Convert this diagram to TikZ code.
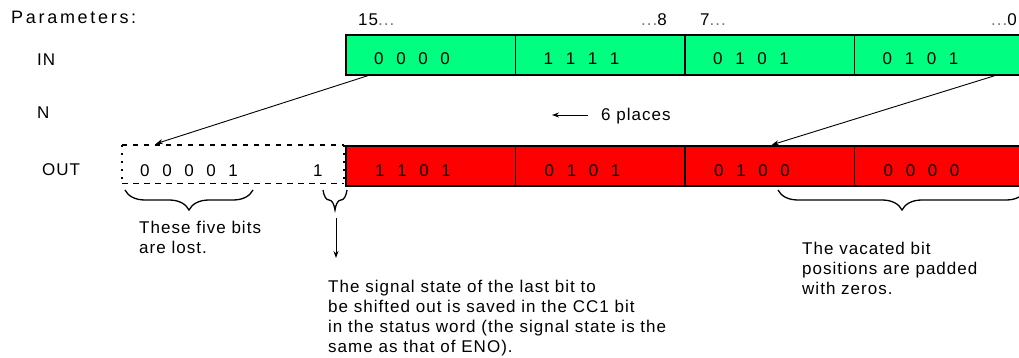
\documentclass[tikz,border=0pt]{standalone}
\usepackage{fontspec}
\setmainfont{Liberation Sans}
\newfontfamily\lblfont[LetterSpace=6]{Liberation Sans}
\newfontfamily\parfont[LetterSpace=15]{Liberation Sans}
\usetikzlibrary{decorations.pathreplacing,arrows.meta}

\definecolor{ingreen}{RGB}{0,255,128}
\definecolor{outred}{RGB}{255,0,0}
\definecolor{dotgray}{RGB}{120,120,120}

% four bit digits with the wide spacing used in the register cells
\newcommand\digitgap{\hspace{12.6pt}}
\newcommand\bitfour[4]{#1\digitgap#2\digitgap#3\digitgap#4}
\newcommand\graydots{\textcolor{dotgray}{...}}

\begin{document}
\begin{tikzpicture}[x=1pt,y=-1pt,
  cell/.style={draw=black,line width=1.3pt,anchor=north west,
    minimum width=169.5pt,minimum height=40pt,inner sep=0pt,outer sep=0pt},
  bits/.style={anchor=base west,inner sep=0pt,font=\fontsize{17}{20}\selectfont},
  lbl/.style={inner sep=0pt,font=\lblfont\fontsize{17}{20}\selectfont},
  note/.style={lbl,align=left,anchor=north west},
  conn/.style={line width=0.9pt,-{Stealth[length=7pt,width=5pt]}},
  bracedec/.style={decorate,decoration={brace,mirror,amplitude=20pt},line width=1.3pt}
]
\useasboundingbox (0,0) rectangle (1019,358);
\clip (0,0) rectangle (1019,358);
\fill[white] (0,0) rectangle (1019,358);

% row labels
\node[inner sep=0pt,anchor=west,font=\parfont\fontsize{18}{20}\selectfont] (params) at (11,17) {Parameters:};
\node[lbl,anchor=west] (inlbl) at (37,60) {IN};
\node[lbl,anchor=west] (nlbl) at (37,113) {N};
\node[lbl,anchor=west] (outlbl) at (42,170) {OUT};

% bit numbering above the input word
\node[lbl,anchor=base west] (b15) at (358,26) {15\graydots};
\node[lbl,anchor=base east] (b8) at (667,26) {\graydots8};
\node[lbl,anchor=base west] (b7) at (700,26) {7\graydots};
\node[lbl,anchor=base east] (b0) at (1017,26) {\graydots0};

% input word
\foreach \i/\a/\b/\c/\d in {0/0/0/0/0,1/1/1/1/1,2/0/1/0/1,3/0/1/0/1}{
  \node[cell,fill=ingreen] (in\i) at (346+169.5*\i,35) {};
  \node[bits] (inb\i) at (374+169.5*\i,65) {\bitfour\a\b\c\d};
}

% output word
\foreach \i/\a/\b/\c/\d in {0/1/1/0/1,1/0/1/0/1,2/0/1/0/0,3/0/0/0/0}{
  \node[cell,fill=outred] (out\i) at (346+169.5*\i,146) {};
  \node[bits] (outb\i) at (375+169.5*\i,176) {\bitfour\a\b\c\d};
}

% bits shifted out of the word
\node[anchor=north west,minimum width=222pt,minimum height=39pt,inner sep=0pt,outer sep=0pt] (lost) at (122,145) {};
\draw[line width=2.2pt,dash pattern=on 5pt off 6pt] (lost.north west) -- (lost.north east);
\draw[line width=1pt,dash pattern=on 6pt off 5pt] (lost.south west) -- (lost.south east);
\draw[line width=2.2pt,dash pattern=on 2.5pt off 5.5pt] (lost.north west) -- (lost.south west);
\draw[line width=2.2pt,dash pattern=on 2.5pt off 5.5pt] (lost.north east) -- (lost.south east);
\node[bits] (lostb) at (140,176) {0\digitgap0\digitgap0\digitgap0\digitgap1};
\node[bits] (lastb) at (313,176) {1};

% shift arrows
\draw[conn,shorten >=4pt] ([xshift=24pt]in0.south west) -- ([xshift=30pt]lost.north west);
\draw[conn,shorten >=4pt] ([xshift=142.5pt]in3.south west) -- ([xshift=83pt]out2.north west);

% shift distance
\node[lbl,anchor=base west] (places) at (601,121) {6 places};
\coordinate (shiftfrom) at (588,115);
\coordinate (shiftto) at (552,115);
\draw[conn] (shiftfrom) -- (shiftto);

% braces and explanations
\draw[bracedec] (125,190) -- (253,190);
\draw[bracedec] (323,190) -- (347,190);
\draw[bracedec] (778,190) -- (1026,190);

\node[note] (lostnote) at (139,221) {These five bits\\are lost.};
\node[note] (ccnote) at (328,280) {The signal state of the last bit to\\be shifted out is saved in the CC1 bit\\in the status word (the signal state is the\\same as that of ENO).};
\node[note] (padnote) at (802,242) {The vacated bit\\positions are padded\\with zeros.};

\coordinate (ccfrom) at (336,218);
\coordinate (ccto) at (336,258);
\draw[conn] (ccfrom) -- (ccto);
\end{tikzpicture}
\end{document}
